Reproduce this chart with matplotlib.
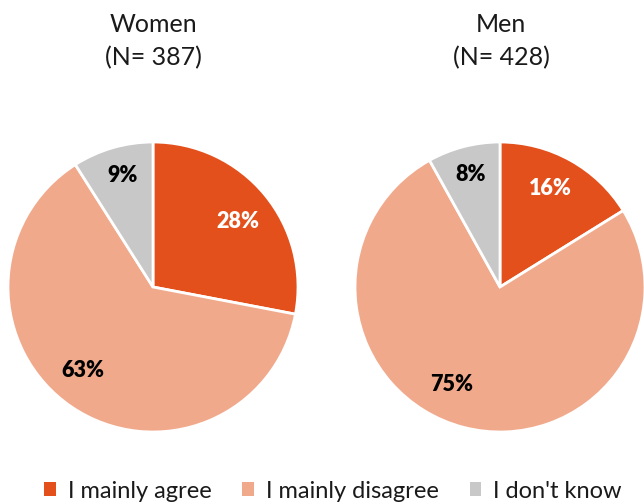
import numpy as np
import matplotlib.pyplot as plt
from matplotlib.patches import Patch

plt.rcParams["font.family"] = ["Lato", "DejaVu Sans"]

categories = ["I mainly agree", "I mainly disagree", "I don't know"]
groups = ["Women", "Men"]
group_n = [387, 428]
women = [28, 63, 9]
men = [16, 75, 8]

colors = ["#E4501C", "#F1A98C", "#C8C8C8"]
label_colors = ["white", "black", "black"]
# label placement tweaks (radius fraction, angle shift in degrees)
label_pos = {
    "Women": [(0.74, -2), (0.75, -6), (0.80, -1)],
    "Men": [(0.76, 2), (0.75, -12), (0.80, 0)],
}

fig = plt.figure(figsize=(6.44, 5.04), dpi=100)

axes_left = [8 / 644, 355 / 644]
title_x = [153 / 644, 501 / 644]

for i, (name, vals) in enumerate(zip(groups, [women, men])):
    ax = fig.add_axes([axes_left[i], 72 / 504, 290 / 644, 290 / 504])
    wedges, _ = ax.pie(vals, colors=colors, startangle=90, counterclock=False,
                       wedgeprops=dict(edgecolor="white", linewidth=2),
                       normalize=True)
    for w, v, lc, (r, da) in zip(wedges, vals, label_colors, label_pos[name]):
        ang = np.deg2rad((w.theta1 + w.theta2) / 2 + da)
        ax.text(r * np.cos(ang), r * np.sin(ang), f"{v}%", ha="center",
                va="center", color=lc, fontsize=15.5, fontweight="heavy")
    ax.set_xlim(-1, 1)
    ax.set_ylim(-1, 1)
    ax.set_aspect("equal")
    ax.axis("off")
    fig.text(title_x[i], 1 - 24 / 504, name, ha="center", va="center",
             fontsize=18, color="#1a1a1a")
    fig.text(title_x[i], 1 - 58 / 504, f"(N= {group_n[i]})", ha="center",
             va="center", fontsize=18, color="#1a1a1a")

handles = [Patch(facecolor=c, edgecolor="none") for c in colors]
fig.legend(handles, categories, loc="center", bbox_to_anchor=(333 / 644, 1 - 491 / 504),
           ncol=3, frameon=False, fontsize=17, handlelength=0.5,
           handleheight=0.5, handletextpad=0.5, columnspacing=1.3,
           labelcolor="#1a1a1a")

fig.savefig("out.png", dpi=100)
